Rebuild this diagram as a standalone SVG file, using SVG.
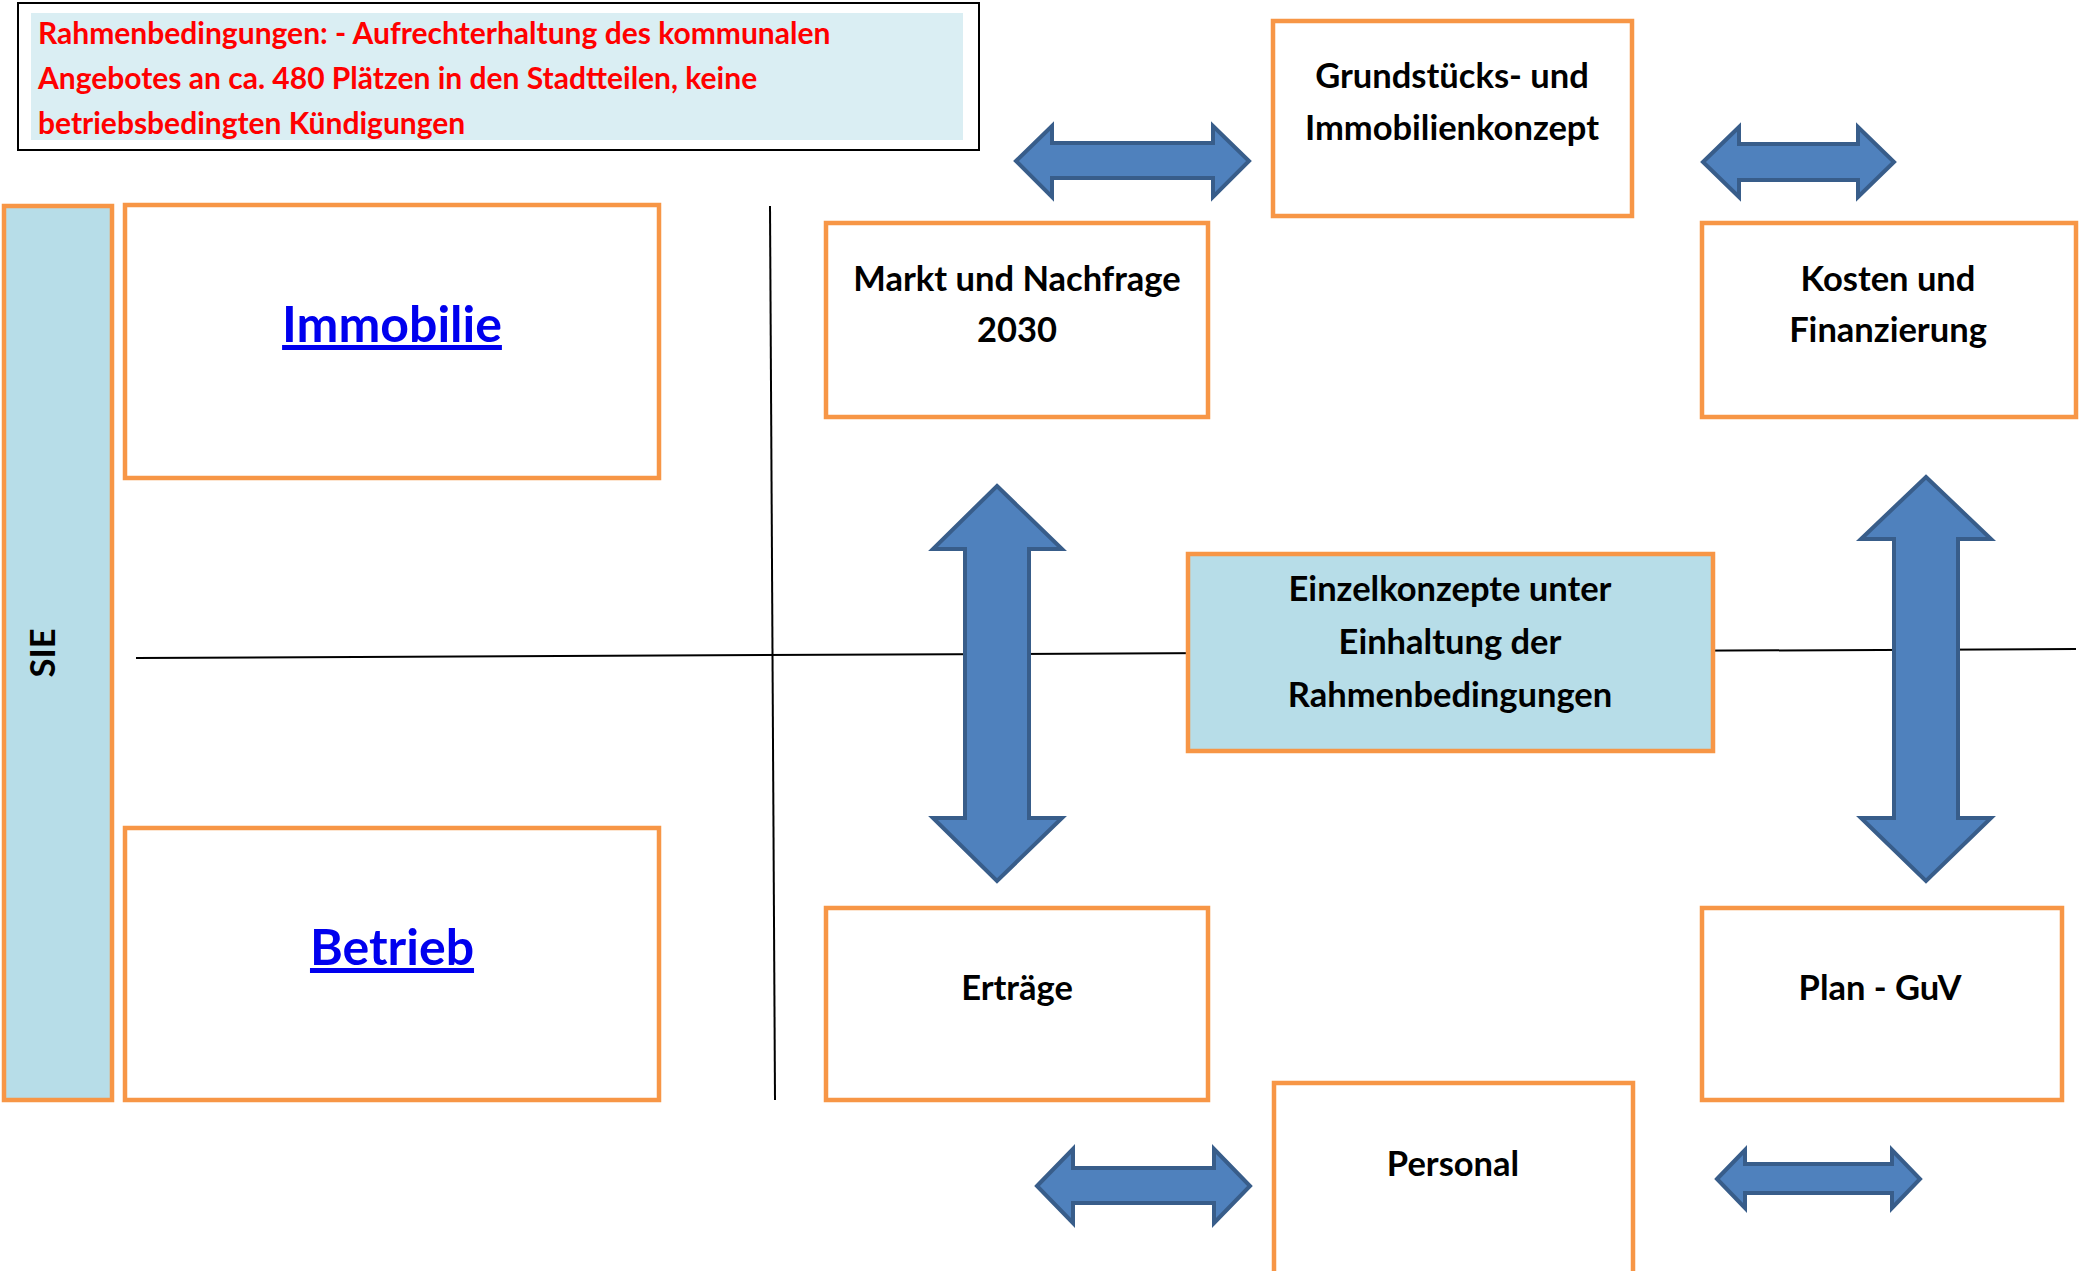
<svg xmlns="http://www.w3.org/2000/svg" width="2089" height="1271" viewBox="0 0 2089 1271">
<style>
.box{fill:#ffffff;stroke:#f79646;stroke-width:4.5}
.blue{fill:#b7dde8;stroke:#f79646;stroke-width:4.5}
.t{font-family:Lato,"Open Sans","Liberation Sans",sans-serif;font-weight:bold;font-size:34.5px;fill:#000;text-anchor:middle}
.red{font-family:Lato,"Open Sans","Liberation Sans",sans-serif;font-weight:bold;font-size:30px;fill:#ff0000}
.link{font-family:Lato,"Open Sans","Liberation Sans",sans-serif;font-weight:bold;font-size:50px;fill:#0000ee;text-anchor:middle;text-decoration:underline}
.arr{fill:#4f81bd;stroke:#385d8a;stroke-width:4;stroke-linejoin:miter}
.ln{stroke:#000;stroke-width:2;fill:none}
</style>
<rect width="2089" height="1271" fill="#ffffff"/>
<g id="connectors">
<line class="ln" x1="770" y1="206" x2="775" y2="1100"/>
<line class="ln" x1="136" y1="658" x2="2076" y2="649"/>
<polygon class="arr" points="1016,161 1052,126 1052,143 1213,143 1213,126 1249,161 1213,197 1213,178 1052,178 1052,197"/>
<polygon class="arr" points="1703,162 1739,127 1739,144 1858,144 1858,127 1894,162 1858,197 1858,180 1739,180 1739,197"/>
<polygon class="arr" points="997,486 1062,549 1029,549 1029,818 1062,818 997,881 933,818 965,818 965,549 933,549"/>
<polygon class="arr" points="1926,477 1991,539 1958,539 1958,818 1991,818 1926,881 1861,818 1894,818 1894,539 1861,539"/>
<polygon class="arr" points="1037,1186 1073,1149 1073,1168 1214,1168 1214,1149 1250,1186 1214,1223 1214,1203 1073,1203 1073,1223"/>
<polygon class="arr" points="1717,1179 1745,1150 1745,1164 1892,1164 1892,1150 1920,1179 1892,1208 1892,1193 1745,1193 1745,1208"/>
</g>
<g id="rahmen">
<rect x="18" y="3" width="961" height="147" fill="#ffffff" stroke="#000" stroke-width="2"/>
<rect x="31" y="13" width="932" height="127" fill="#daeef3"/>
<text class="red" x="38" y="44">Rahmenbedingungen: - Aufrechterhaltung des kommunalen</text>
<text class="red" x="38" y="89">Angebotes an ca. 480 Plätzen in den Stadtteilen, keine</text>
<text class="red" x="38" y="134">betriebsbedingten Kündigungen</text>
</g>
<g id="sie">
<rect class="blue" x="4" y="206" width="108" height="894"/>
<text class="t" transform="translate(55,653) rotate(-90)">SIE</text>
</g>
<g id="immobilie">
<rect class="box" x="125" y="205" width="534" height="273"/>
<text class="link" x="392" y="342">Immobilie</text>
</g>
<g id="betrieb">
<rect class="box" x="125" y="828" width="534" height="272"/>
<text class="link" x="392" y="965">Betrieb</text>
</g>
<g id="grundstueck">
<rect class="box" x="1273" y="21" width="359" height="195"/>
<text class="t" x="1452" y="88">Grundstücks- und</text>
<text class="t" x="1452" y="140">Immobilienkonzept</text>
</g>
<g id="markt">
<rect class="box" x="826" y="223" width="382" height="194"/>
<text class="t" x="1017" y="291">Markt und Nachfrage</text>
<text class="t" x="1017" y="342">2030</text>
</g>
<g id="kosten">
<rect class="box" x="1702" y="223" width="374" height="194"/>
<text class="t" x="1888" y="291">Kosten und</text>
<text class="t" x="1888" y="342">Finanzierung</text>
</g>
<g id="einzelkonzepte">
<rect class="blue" x="1188" y="554" width="525" height="197"/>
<text class="t" x="1450" y="601">Einzelkonzepte unter</text>
<text class="t" x="1450" y="654">Einhaltung der</text>
<text class="t" x="1450" y="707">Rahmenbedingungen</text>
</g>
<g id="ertraege">
<rect class="box" x="826" y="908" width="382" height="192"/>
<text class="t" x="1017" y="1000">Erträge</text>
</g>
<g id="plan">
<rect class="box" x="1702" y="908" width="360" height="192"/>
<text class="t" x="1880" y="1000">Plan - GuV</text>
</g>
<g id="personal">
<rect class="box" x="1274" y="1083" width="359" height="200"/>
<text class="t" x="1453" y="1176">Personal</text>
</g>
</svg>
